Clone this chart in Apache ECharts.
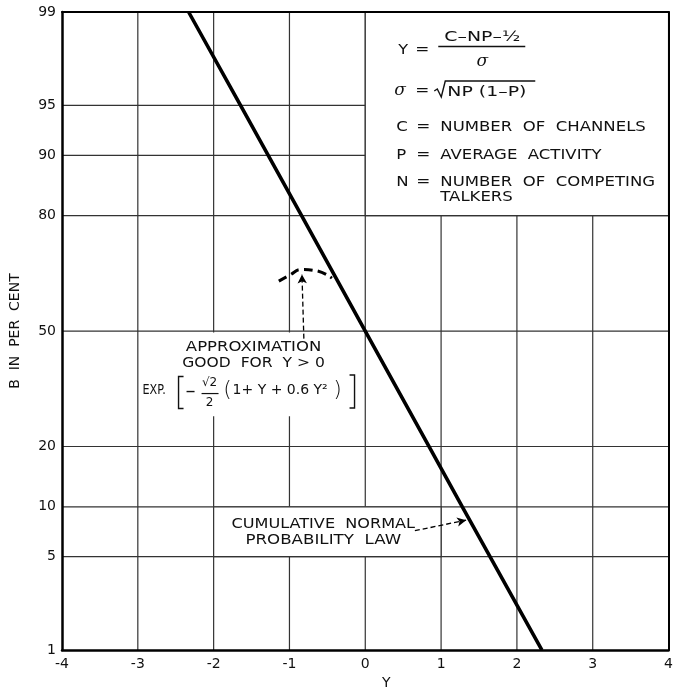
<!DOCTYPE html>
<html>
<head>
<meta charset="utf-8">
<title>Blocking probability B versus Y</title>
<script src="https://cdn.jsdelivr.net/npm/echarts@6.0.0/dist/echarts.min.js"></script>
<style>
  html, body { margin: 0; padding: 0; background: #fff; }
  #chart { width: 676px; height: 695px; }
</style>
</head>
<body>
<div id="chart"></div>
<script>
// Horizontal axis: Y = (C - NP - 1/2) / sigma
const yTicks = [-4, -3, -2, -1, 0, 1, 2, 3, 4];
// Probability axis: B in per cent
const bTicks = [1, 5, 10, 20, 50, 80, 90, 95, 99];
// Cumulative normal probability law where it crosses the rulings, [Y, B %]
const normalLaw = [[-2.33, 99], [-1.645, 95], [-1.28, 90], [-0.84, 80], [0, 50],
                   [0.84, 20], [1.28, 10], [1.645, 5], [2.33, 1]];
// Exponential approximation, the dashed part that bends over for Y < 0, [Y, B %]
const approxCurve = [[-1.14, 64.2], [-1.0, 65.8], [-0.84, 67.3], [-0.65, 67.0], [-0.44, 65.0]];

// Normal-probability ruling: a percentage is placed at its standard normal deviate
function probit(pct) {
  const p = pct / 100;
  const a = [-3.969683028665376e+01, 2.209460984245205e+02, -2.759285104469687e+02,
             1.383577518672690e+02, -3.066479806614716e+01, 2.506628277459239e+00];
  const b = [-5.447609879822406e+01, 1.615858368580409e+02, -1.556989798598866e+02,
             6.680131188771972e+01, -1.328068155288572e+01];
  const c = [-7.784894002430293e-03, -3.223964580411365e-01, -2.400758277161838e+00,
             -2.549732539343734e+00, 4.374664141464968e+00, 2.938163982698783e+00];
  const d = [7.784695709041462e-03, 3.224671290700398e-01, 2.445134137142996e+00,
             3.754408661907416e+00];
  const lo = 0.02425;
  let q, r;
  if (p < lo) {
    q = Math.sqrt(-2 * Math.log(p));
    return (((((c[0]*q + c[1])*q + c[2])*q + c[3])*q + c[4])*q + c[5]) /
           ((((d[0]*q + d[1])*q + d[2])*q + d[3])*q + 1);
  }
  if (p <= 1 - lo) {
    q = p - 0.5; r = q * q;
    return (((((a[0]*r + a[1])*r + a[2])*r + a[3])*r + a[4])*r + a[5]) * q /
           (((((b[0]*r + b[1])*r + b[2])*r + b[3])*r + b[4])*r + 1);
  }
  q = Math.sqrt(-2 * Math.log(1 - p));
  return -(((((c[0]*q + c[1])*q + c[2])*q + c[3])*q + c[4])*q + c[5]) /
          ((((d[0]*q + d[1])*q + d[2])*q + d[3])*q + 1);
}

const INK = '#111';
const FONT = "'DejaVu Sans', sans-serif";
const xMin = yTicks[0], xMax = yTicks[yTicks.length - 1];
const zMin = probit(bTicks[0]), zMax = probit(bTicks[bTicks.length - 1]);

// inner rulings: 0 = vertical at Y, 1 = horizontal at B %
const rulings = yTicks.slice(1, -1).map(v => [0, v])
  .concat(bTicks.slice(1, -1).map(v => [1, v]));

const chart = echarts.init(document.getElementById('chart'), null, { renderer: 'canvas' });

const option = {
  animation: false,
  backgroundColor: '#fff',
  textStyle: { fontFamily: FONT },
  grid: { left: 60, right: 3, top: 12, bottom: 36 },
  xAxis: [{
    type: 'value', min: xMin, max: xMax, interval: 1, z: 10,
    name: 'Y', nameLocation: 'middle', nameGap: 22,
    nameTextStyle: { color: INK, fontSize: 14, fontFamily: FONT, padding: [0, 0, 0, 42] },
    axisLine: { show: true, onZero: false, lineStyle: { color: '#000', width: 2.5 } },
    axisTick: { show: false },
    splitLine: { show: false },
    axisLabel: { color: INK, fontSize: 14, fontFamily: FONT, margin: 7 }
  }, {
    type: 'value', position: 'top', min: xMin, max: xMax, z: 10,
    axisLine: { show: true, onZero: false, lineStyle: { color: '#000', width: 2 } },
    axisTick: { show: false }, axisLabel: { show: false }, splitLine: { show: false }
  }],
  yAxis: [{
    type: 'value', min: zMin, max: zMax, z: 10,
    name: 'B  IN  PER  CENT', nameLocation: 'middle', nameGap: 40,
    nameTextStyle: { color: INK, fontSize: 14, fontFamily: FONT },
    axisLine: { show: true, onZero: false, lineStyle: { color: '#000', width: 2.5 } },
    axisTick: { show: false },
    splitLine: { show: false },
    axisLabel: {
      color: INK, fontSize: 14, fontFamily: FONT, margin: 6,
      customValues: bTicks.map(probit),
      formatter: v => {
        const t = bTicks.find(b => Math.abs(probit(b) - v) < 1e-6);
        return t === undefined ? '' : String(t);
      }
    }
  }, {
    type: 'value', position: 'right', min: zMin, max: zMax, z: 10,
    axisLine: { show: true, onZero: false, lineStyle: { color: '#000', width: 2 } },
    axisTick: { show: false }, axisLabel: { show: false }, splitLine: { show: false }
  }],
  series: [
    {
      // probability-paper rulings
      name: 'rulings', type: 'custom', z: 1, silent: true,
      data: rulings,
      renderItem: (params, api) => {
        const kind = api.value(0), v = api.value(1);
        const p1 = kind === 0 ? api.coord([v, zMin]) : api.coord([xMin, probit(v)]);
        const p2 = kind === 0 ? api.coord([v, zMax]) : api.coord([xMax, probit(v)]);
        return {
          type: 'line',
          shape: { x1: p1[0], y1: p1[1], x2: p2[0], y2: p2[1] },
          style: { stroke: '#333', lineWidth: 1.2 }
        };
      }
    },
    {
      // white panels behind the lettering: [Y1, B1, Y2, B2, ruled edge]
      name: 'panels', type: 'custom', z: 2, silent: true,
      data: [[0, 99, 4, 80, 1], [-2.98, 49.6, -0.06, 26.7, 0], [-2, 10, 1, 5, 1]],
      renderItem: (params, api) => {
        const a = api.coord([api.value(0), probit(api.value(1))]);
        const b = api.coord([api.value(2), probit(api.value(3))]);
        return {
          type: 'rect',
          shape: { x: a[0], y: a[1], width: b[0] - a[0], height: b[1] - a[1] },
          style: { fill: '#fff', stroke: api.value(4) ? '#333' : null, lineWidth: 1.2 }
        };
      }
    },
    {
      name: 'Cumulative normal probability law', type: 'line', z: 3,
      data: normalLaw.map(([y, b]) => [y, probit(b)]),
      symbol: 'none', clip: true,
      lineStyle: { color: '#000', width: 3.6 }
    },
    {
      name: 'Approximation', type: 'line', z: 4, smooth: true,
      data: approxCurve.map(([y, b]) => [y, probit(b)]),
      symbol: 'none',
      lineStyle: { color: '#000', width: 3, type: [9, 5] },
      markLine: {
        silent: true, symbol: ['none', 'arrow'], symbolSize: [7, 9],
        label: { show: false },
        lineStyle: { color: '#000', width: 1.3, type: [5, 3], curveness: -0.15 },
        data: [
          [{ coord: [-0.81, probit(47.8)] }, { coord: [-0.835, probit(66.0)] }],
          [{ coord: [0.654, probit(7.27)] }, { coord: [1.33, probit(8.4)] }]
        ]
      }
    }
  ]
};
chart.setOption(option);

// lettering, anchored to data positions on the chart
const toPx = (y, b) => chart.convertToPixel({ xAxisIndex: 0, yAxisIndex: 0 }, [y, probit(b)]);
function txt(x, y, s, o) {
  o = o || {};
  return {
    type: 'text', x: x, y: y, scaleX: o.sx || 1, z: 50, silent: true,
    style: {
      text: s, x: 0, y: 0, fill: INK,
      font: (o.style || 'normal') + ' ' + (o.size || 14) + 'px ' + (o.family || FONT),
      textAlign: o.align || 'left', textVerticalAlign: 'middle'
    }
  };
}
function pl(points, w) {
  return { type: 'polyline', z: 50, silent: true, shape: { points: points },
           style: { stroke: INK, lineWidth: w || 1.4, fill: null } };
}
const SERIF_I = "'DejaVu Serif', serif";
const els = [];

// definitions panel
const [ax, ay] = toPx(0, 99);
els.push(txt(ax + 33, ay + 38, 'Y', { sx: 1.15 }));
els.push(txt(ax + 50, ay + 38, '=', { sx: 1.2 }));
els.push(txt(ax + 117, ay + 25, 'C–NP–½', { align: 'center', sx: 1.35 }));
els.push(pl([[ax + 73, ay + 34.5], [ax + 160, ay + 34.5]], 1.5));
els.push(txt(ax + 117, ay + 50, 'σ', { align: 'center', size: 17, style: 'italic', family: SERIF_I }));
els.push(txt(ax + 29, ay + 79, 'σ', { size: 17, style: 'italic', family: SERIF_I }));
els.push(txt(ax + 50, ay + 79, '=', { sx: 1.2 }));
els.push(pl([[ax + 69, ay + 79], [ax + 72, ay + 77], [ax + 76, ay + 85], [ax + 80, ay + 69], [ax + 170, ay + 69]], 1.4));
els.push(txt(ax + 82, ay + 80, 'NP (1–P)', { sx: 1.35 }));
[['C', 'NUMBER  OF  CHANNELS', 115], ['P', 'AVERAGE  ACTIVITY', 143], ['N', 'NUMBER  OF  COMPETING', 170]]
  .forEach(([sym, words, dy]) => {
    els.push(txt(ax + 31, ay + dy, sym, { sx: 1.18 }));
    els.push(txt(ax + 51, ay + dy, '=', { sx: 1.2 }));
    els.push(txt(ax + 75, ay + dy, words, { sx: 1.18 }));
  });
els.push(txt(ax + 75, ay + 185, 'TALKERS', { sx: 1.18 }));

// approximation note
const [bx, by] = toPx(-1.5, 50);
els.push(txt(bx + 2, by + 16.5, 'APPROXIMATION', { align: 'center', sx: 1.18 }));
els.push(txt(bx + 2, by + 32.5, 'GOOD  FOR  Y > 0', { align: 'center', sx: 1.11 }));
els.push(txt(bx - 109, by + 59.5, 'EXP.', { size: 14, sx: 0.8 }));
els.push(pl([[bx - 68, by + 45.5], [bx - 73, by + 45.5], [bx - 73, by + 77.5], [bx - 68, by + 77.5]], 1.4));
els.push(pl([[bx - 65, by + 60.5], [bx - 57, by + 60.5]], 1.4));
els.push(txt(bx - 42, by + 52, '√2', { align: 'center', size: 12 }));
els.push(pl([[bx - 50, by + 62.5], [bx - 33, by + 62.5]], 1.2));
els.push(txt(bx - 42, by + 72, '2', { align: 'center', size: 12 }));
els.push(txt(bx - 24, by + 59.5, '(', { align: 'center', size: 22, style: '200' }));
els.push(txt(bx - 19, by + 59.5, '1+ Y + 0.6 Y²', { size: 14 }));
els.push(txt(bx + 86, by + 59.5, ')', { align: 'center', size: 22, style: '200' }));
els.push(pl([[bx + 98, by + 44], [bx + 103, by + 44], [bx + 103, by + 77], [bx + 98, by + 77]], 1.4));

// curve label
const [cx, cy] = toPx(0, 10);
els.push(txt(cx - 42, cy + 17.3, 'CUMULATIVE  NORMAL', { align: 'center', sx: 1.15 }));
els.push(txt(cx - 42, cy + 33.3, 'PROBABILITY  LAW', { align: 'center', sx: 1.19 }));

chart.setOption({ graphic: els });
</script>
</body>
</html>
